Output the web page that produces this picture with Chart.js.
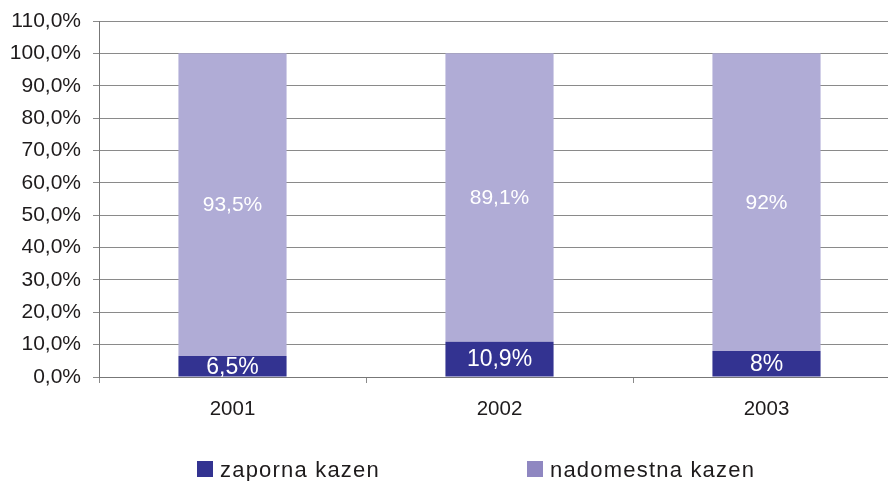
<!DOCTYPE html>
<html>
<head>
<meta charset="utf-8">
<script src="https://cdn.jsdelivr.net/npm/chart.js@4.4.0/dist/chart.umd.min.js"></script>
<style>
  html, body { margin: 0; padding: 0; background: #fff; overflow: hidden; }
  #wrap { width: 888px; height: 481px; overflow: hidden; }
  #box { width: 905px; height: 481px; }
</style>
</head>
<body>
<div id="wrap"><div id="box"><canvas id="chart"></canvas></div></div>
<script>
// data
let years = ["2001", "2002", "2003"];
let zaporna = [6.5, 10.9, 8];
let nadomestna = [93.5, 89.1, 92];
let seriesNames = ["zaporna kazen", "nadomestna kazen"];
let yTicks = [0, 10, 20, 30, 40, 50, 60, 70, 80, 90, 100, 110];

let barColors = ["#333391", "#b0acd6"];
let legendColors = ["#333391", "#8f87c1"];
let textColor = "#1e1b1c";
let gridColor = "#8a8a8a";

function pct(v) {
    return v.toString().replace(".", ",") + "%";
}

// white value labels in the middle of each bar piece
let barLabels = {
    id: "barLabels",
    afterDatasetsDraw(chart) {
        let ctx = chart.ctx;
        ctx.save();
        ctx.fillStyle = "#ffffff";
        ctx.textAlign = "center";
        ctx.textBaseline = "middle";
        chart.data.datasets.forEach((ds, i) => {
            let meta = chart.getDatasetMeta(i);
            ctx.font = (i == 0 ? "23px" : "21px") + " 'Liberation Sans', Arial, sans-serif";
            meta.data.forEach((bar, j) => {
                let y = (bar.y + bar.base) / 2;
                ctx.fillText(pct(ds.data[j]), bar.x, y + 1);
            });
        });
        ctx.restore();
    }
};

// legend at the bottom, spaced like the original
let bottomLegend = {
    id: "bottomLegend",
    afterDraw(chart) {
        let ctx = chart.ctx;
        ctx.save();
        ctx.font = "22px 'Liberation Sans', Arial, sans-serif";
        ctx.letterSpacing = "1.2px";
        ctx.textBaseline = "alphabetic";
        ctx.textAlign = "left";
        let x = 197;
        let y = 461;
        chart.data.datasets.forEach((ds, i) => {
            ctx.fillStyle = legendColors[i];
            ctx.fillRect(x, y, 16, 16);
            ctx.fillStyle = textColor;
            ctx.fillText(ds.label, x + 23, y + 16);
            x += 330;
        });
        ctx.restore();
    }
};

let ctx = document.getElementById("chart").getContext("2d");
let chart = new Chart(ctx, {
    type: "bar",
    data: {
        labels: years,
        datasets: [
            {
                label: seriesNames[0],
                data: zaporna,
                backgroundColor: barColors[0],
                categoryPercentage: 0.405,
                barPercentage: 1
            },
            {
                label: seriesNames[1],
                data: nadomestna,
                backgroundColor: barColors[1],
                categoryPercentage: 0.405,
                barPercentage: 1
            }
        ]
    },
    options: {
        responsive: true,
        maintainAspectRatio: false,
        animation: false,
        layout: {
            padding: { top: 21, right: 5, bottom: 54, left: 0 }
        },
        plugins: {
            legend: { display: false },
            tooltip: { enabled: false }
        },
        scales: {
            x: {
                stacked: true,
                offset: true,
                afterFit: (scale) => { scale.height = 50; },
                grid: {
                    offset: true,
                    drawOnChartArea: false,
                    drawTicks: true,
                    tickLength: 6,
                    color: gridColor
                },
                border: { display: true, color: "#777777", width: 1 },
                ticks: {
                    padding: 14,
                    color: textColor,
                    font: { family: "'Liberation Sans', Arial, sans-serif", size: 20.5 }
                }
            },
            y: {
                stacked: true,
                min: 0,
                max: 110,
                afterFit: (scale) => {
                    scale.width = 99;
                    scale.paddingTop = 0;
                    scale.paddingBottom = 0;
                },
                afterBuildTicks: (scale) => { scale.ticks = yTicks.map(v => ({ value: v })); },
                grid: {
                    color: gridColor,
                    lineWidth: 1,
                    drawTicks: true,
                    tickLength: 6
                },
                border: { display: true, color: "#777777", width: 1 },
                ticks: {
                    padding: 12,
                    color: textColor,
                    font: { family: "'Liberation Sans', Arial, sans-serif", size: 21 },
                    callback: (v) => v.toFixed(1).replace(".", ",") + "%"
                }
            }
        }
    },
    plugins: [barLabels, bottomLegend]
});
</script>
</body>
</html>
